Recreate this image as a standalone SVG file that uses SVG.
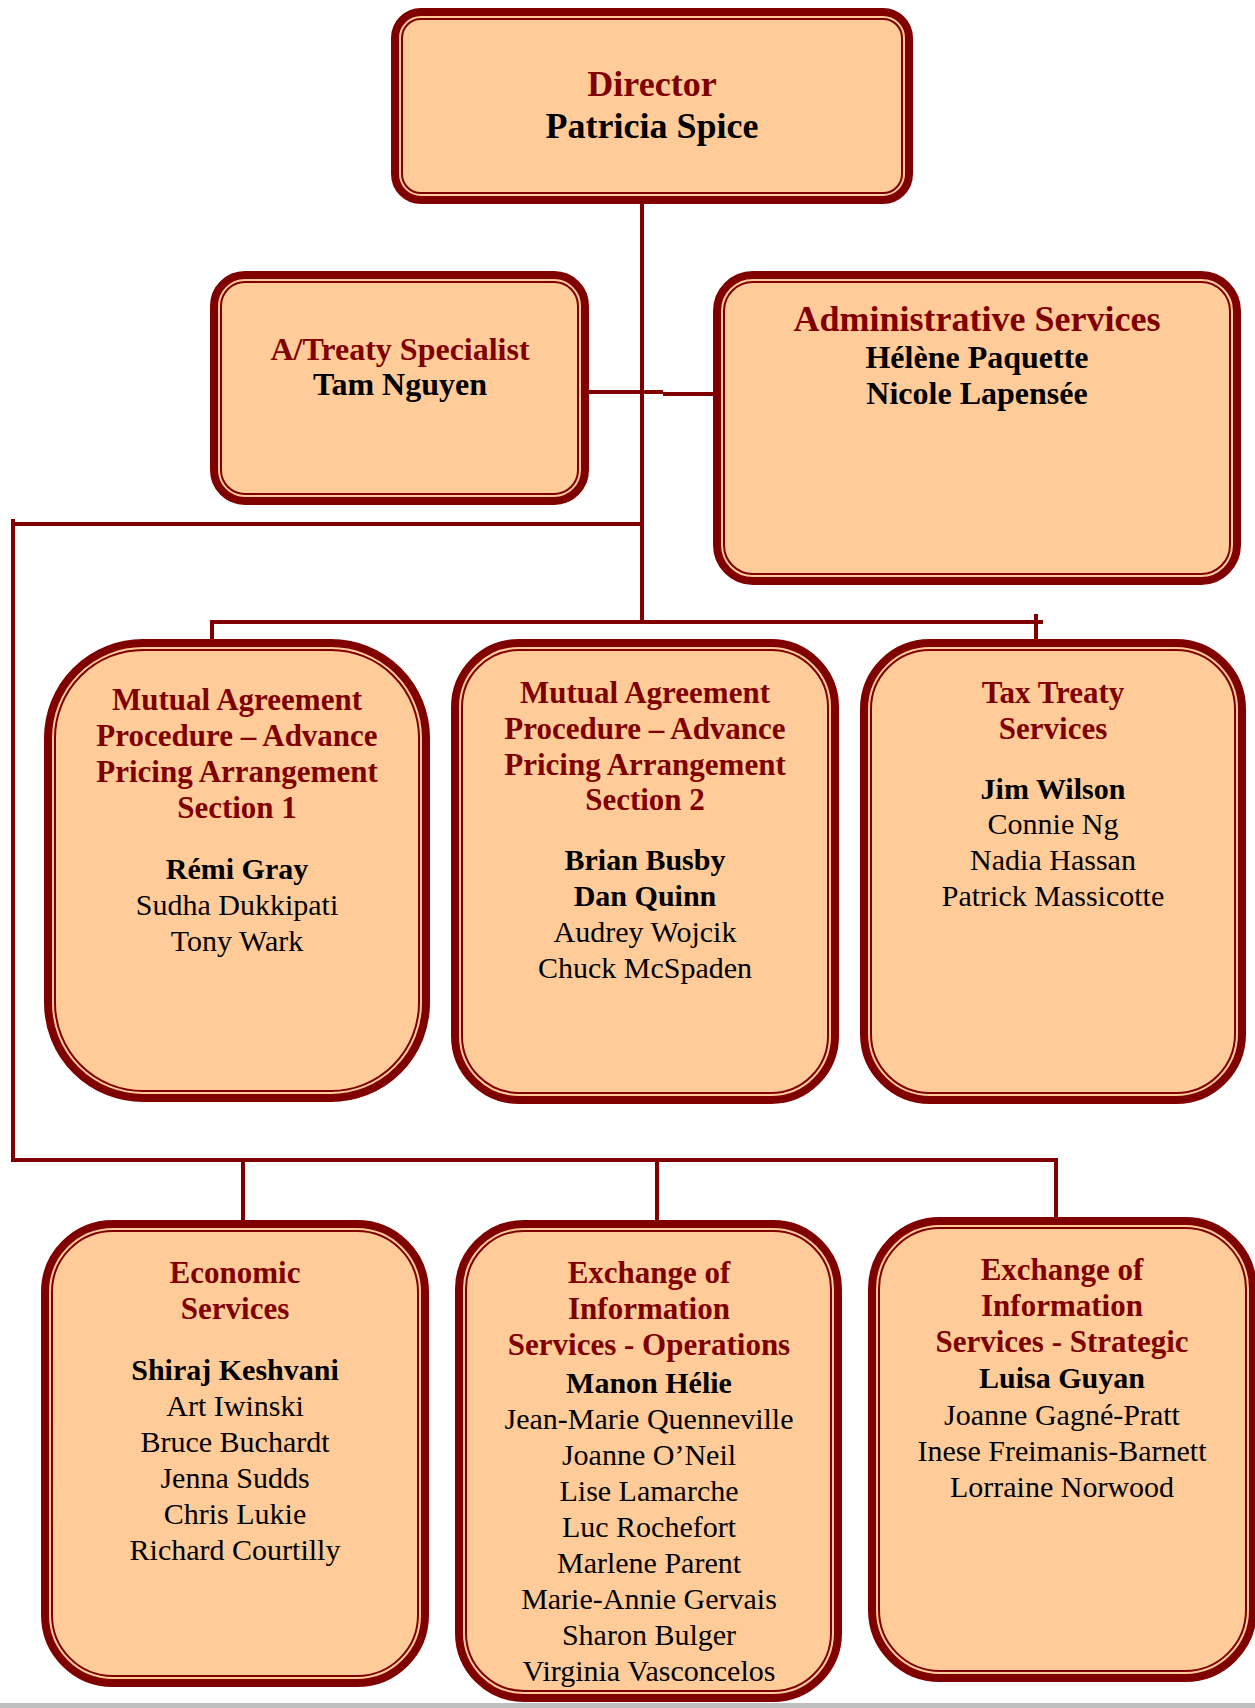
<svg xmlns="http://www.w3.org/2000/svg" width="1255" height="1708" viewBox="0 0 1255 1708">
<style>
.o{fill:#FFCC99;stroke:#800000;stroke-width:8}
.i{fill:none;stroke:#800000;stroke-width:2}
.c{fill:none;stroke:#800000;stroke-width:4}
text{font-family:"Liberation Serif","Times New Roman",serif;text-anchor:middle}
.t{fill:#800000;font-weight:bold;font-size:31px}
.b{fill:#000;font-weight:bold;font-size:30px}
.n{fill:#000;font-size:30px}
</style>
<rect x="0" y="0" width="1255" height="1708" fill="#fff"/>
<rect x="0" y="1703" width="1255" height="5" fill="#bfbfbf"/>
<g id="connectors">
<path class="c" d="M642 204V624"/>
<path class="c" d="M589 392H663"/>
<path class="c" d="M663 394H713"/>
<path class="c" d="M13 524H642"/>
<path class="c" d="M13 519V1162"/>
<path class="c" d="M11 1160H1056"/>
<path class="c" d="M211 622H1043"/>
<path class="c" d="M212 620V640"/>
<path class="c" d="M1036 614V640"/>
<path class="c" d="M243 1160V1220"/>
<path class="c" d="M657 1160V1220"/>
<path class="c" d="M1056 1158V1217"/>
</g>
<g id="director">
<rect class="o" x="395" y="12" width="514" height="188" rx="26"/>
<rect class="i" x="402" y="19" width="500" height="174" rx="19"/>
<text x="652" y="96" class="t" style="font-size:36px">Director</text>
<text x="652" y="138" class="b" style="font-size:36px">Patricia Spice</text>
</g>
<g id="treaty-specialist">
<rect class="o" x="214" y="275" width="371" height="226" rx="31"/>
<rect class="i" x="221" y="282" width="357" height="212" rx="24"/>
<text x="400" y="360" class="t" style="font-size:32px">A/Treaty Specialist</text>
<text x="400" y="395" class="b" style="font-size:32px">Tam Nguyen</text>
</g>
<g id="admin">
<rect class="o" x="717" y="275" width="520" height="306" rx="36"/>
<rect class="i" x="724" y="282" width="506" height="292" rx="29"/>
<text x="977" y="331" class="t" style="font-size:36px">Administrative Services</text>
<text x="977" y="368" class="b" style="font-size:32px">Hélène Paquette</text>
<text x="977" y="404" class="b" style="font-size:32px">Nicole Lapensée</text>
</g>
<g id="map1">
<rect class="o" x="48" y="643" width="378" height="455" rx="95"/>
<rect class="i" x="55" y="650" width="364" height="441" rx="88"/>
<text x="237" y="710" class="t">Mutual Agreement</text>
<text x="237" y="746" class="t">Procedure – Advance</text>
<text x="237" y="782" class="t">Pricing Arrangement</text>
<text x="237" y="818" class="t">Section 1</text>
<text x="237" y="879" class="b">Rémi Gray</text>
<text x="237" y="915" class="n">Sudha Dukkipati</text>
<text x="237" y="951" class="n">Tony Wark</text>
</g>
<g id="map2">
<rect class="o" x="455" y="643" width="380" height="457" rx="64"/>
<rect class="i" x="462" y="650" width="366" height="443" rx="57"/>
<text x="645" y="703" class="t">Mutual Agreement</text>
<text x="645" y="739" class="t">Procedure – Advance</text>
<text x="645" y="775" class="t">Pricing Arrangement</text>
<text x="645" y="810" class="t">Section 2</text>
<text x="645" y="870" class="b">Brian Busby</text>
<text x="645" y="906" class="b">Dan Quinn</text>
<text x="645" y="942" class="n">Audrey Wojcik</text>
<text x="645" y="978" class="n">Chuck McSpaden</text>
</g>
<g id="tax-treaty">
<rect class="o" x="864" y="643" width="378" height="457" rx="66"/>
<rect class="i" x="871" y="650" width="364" height="443" rx="59"/>
<text x="1053" y="703" class="t">Tax Treaty</text>
<text x="1053" y="739" class="t">Services</text>
<text x="1053" y="799" class="b">Jim Wilson</text>
<text x="1053" y="834" class="n">Connie Ng</text>
<text x="1053" y="870" class="n">Nadia Hassan</text>
<text x="1053" y="906" class="n">Patrick Massicotte</text>
</g>
<g id="economic">
<rect class="o" x="45" y="1224" width="380" height="459" rx="68"/>
<rect class="i" x="52" y="1231" width="366" height="445" rx="61"/>
<text x="235" y="1283" class="t">Economic</text>
<text x="235" y="1319" class="t">Services</text>
<text x="235" y="1380" class="b">Shiraj Keshvani</text>
<text x="235" y="1416" class="n">Art Iwinski</text>
<text x="235" y="1452" class="n">Bruce Buchardt</text>
<text x="235" y="1488" class="n">Jenna Sudds</text>
<text x="235" y="1524" class="n">Chris Lukie</text>
<text x="235" y="1560" class="n">Richard Courtilly</text>
</g>
<g id="eoi-operations">
<rect class="o" x="459" y="1224" width="379" height="474" rx="65"/>
<rect class="i" x="466" y="1231" width="365" height="460" rx="58"/>
<text x="649" y="1283" class="t">Exchange of</text>
<text x="649" y="1319" class="t">Information</text>
<text x="649" y="1355" class="t">Services - Operations</text>
<text x="649" y="1393" class="b">Manon Hélie</text>
<text x="649" y="1429" class="n">Jean-Marie Quenneville</text>
<text x="649" y="1465" class="n">Joanne O’Neil</text>
<text x="649" y="1501" class="n">Lise Lamarche</text>
<text x="649" y="1537" class="n">Luc Rochefort</text>
<text x="649" y="1573" class="n">Marlene Parent</text>
<text x="649" y="1609" class="n">Marie-Annie Gervais</text>
<text x="649" y="1645" class="n">Sharon Bulger</text>
<text x="649" y="1681" class="n">Virginia Vasconcelos</text>
</g>
<g id="eoi-strategic">
<rect class="o" x="872" y="1221" width="381" height="457" rx="68"/>
<rect class="i" x="879" y="1228" width="367" height="443" rx="61"/>
<text x="1062" y="1280" class="t">Exchange of</text>
<text x="1062" y="1316" class="t">Information</text>
<text x="1062" y="1352" class="t">Services - Strategic</text>
<text x="1062" y="1388" class="b">Luisa Guyan</text>
<text x="1062" y="1425" class="n">Joanne Gagné-Pratt</text>
<text x="1062" y="1461" class="n">Inese Freimanis-Barnett</text>
<text x="1062" y="1497" class="n">Lorraine Norwood</text>
</g>
</svg>
